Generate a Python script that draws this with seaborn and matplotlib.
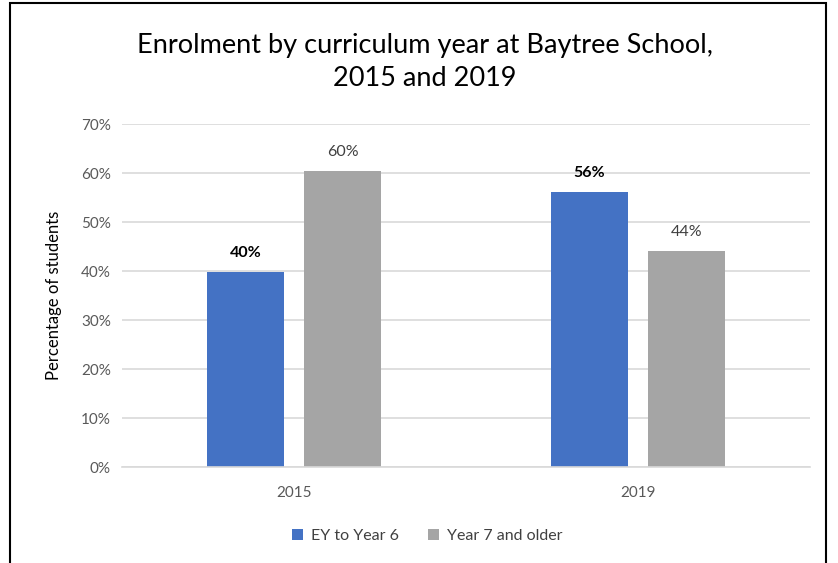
import matplotlib
matplotlib.use("Agg")
import matplotlib.pyplot as plt
import seaborn as sns
import pandas as pd
from matplotlib.patches import Rectangle

years = ["2015", "2019"]
series = ["EY to Year 6", "Year 7 and older"]
ey_values = [39.8, 56.1]
older_values = [60.4, 44.1]
yticks = [0, 10, 20, 30, 40, 50, 60, 70]

df = pd.DataFrame({
    "Year": years * 2,
    "Group": [series[0]] * 2 + [series[1]] * 2,
    "Value": ey_values + older_values,
})

sns.set_theme(style="white")
plt.rcParams["font.family"] = ["Lato", "DejaVu Sans"]

fig = plt.figure(figsize=(8.38, 5.63), dpi=100)
ax = fig.add_axes([0.1456, 0.1705, 0.821, 0.609])

colors = {"EY to Year 6": "#4472C4", "Year 7 and older": "#A5A5A5"}
sns.barplot(data=df, x="Year", y="Value", hue="Group", palette=colors,
            width=0.564, gap=0.206, linewidth=0, ax=ax, saturation=1, legend=True)

ax.set_ylim(0, 70)
ax.set_yticks(yticks)
ax.set_yticklabels([f"{t}%" for t in yticks])
ax.yaxis.grid(True, color="#D9D9D9", linewidth=1.2)
ax.set_axisbelow(True)
for s in ["top", "right", "left"]:
    ax.spines[s].set_visible(False)
ax.spines["bottom"].set_color("#D9D9D9")
ax.spines["bottom"].set_linewidth(1.2)
ax.tick_params(axis="both", length=0, labelsize=11, colors="#595959", pad=8)
ax.tick_params(axis="x", pad=14)
ax.set_xlabel("")
ax.set_ylabel("Percentage of students", fontsize=12, color="black", labelpad=14)

for i, cont in enumerate(ax.containers):
    if i == 0:
        ax.bar_label(cont, labels=[f"{v:.0f}%" for v in cont.datavalues],
                     padding=9, fontsize=11.5, fontweight="bold", color="black")
    else:
        ax.bar_label(cont, labels=[f"{v:.0f}%" for v in cont.datavalues],
                     padding=9, fontsize=11.5, color="#404040")

handles, labels = ax.get_legend_handles_labels()
ax.legend_.remove()
fig.legend(handles, labels, loc="center", bbox_to_anchor=(0.51, 1 - 536 / 563),
           ncol=2, frameon=False, fontsize=11.5, handlelength=0.7, handleheight=0.7,
           columnspacing=1.8, handletextpad=0.5, labelcolor="#404040")

fig.text(0.507, 1 - 45 / 563, "Enrolment by curriculum year at Baytree School,",
         ha="center", va="center", fontsize=19.5, color="black")
fig.text(0.507, 1 - 78 / 563, "2015 and 2019",
         ha="center", va="center", fontsize=19.5, color="black")

fig.patches.append(Rectangle((10 / 838, -0.05), 816 / 838, 1 - 3 / 563 + 0.05,
                             transform=fig.transFigure, fill=False,
                             edgecolor="black", linewidth=1.5))

fig.savefig("out.png", dpi=100)
